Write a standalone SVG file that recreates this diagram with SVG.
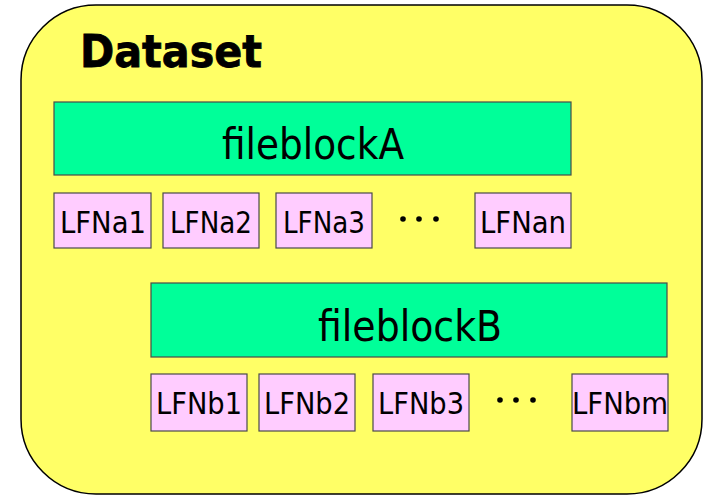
<svg xmlns="http://www.w3.org/2000/svg" width="706" height="497" viewBox="0 0 706 497">
<style>
.fb{fill:#00FF99;stroke:#4a4a4a;stroke-width:1.2}
.lfn{fill:#FFCCFF;stroke:#4a4a4a;stroke-width:1.2}
.t{font-family:"DejaVu Sans Condensed","DejaVu Sans",sans-serif;fill:#000;text-anchor:middle}
.big{font-size:43px}
.small{font-size:30px}
.dot{fill:#000}
</style>
<rect width="706" height="497" fill="#fff"/>
<g id="dataset">
<rect x="21" y="5" width="681" height="489" rx="75" ry="75" fill="#FFFF66" stroke="#000" stroke-width="1.5"/>
<text x="80" y="67" font-family="'DejaVu Sans',sans-serif" font-weight="bold" font-size="44" stroke="#000" stroke-width="0.8" textLength="182" lengthAdjust="spacingAndGlyphs">Dataset</text>
</g>
<g id="fileblockA">
<rect class="fb" x="54" y="102" width="517" height="73"/>
<text class="t big" x="313" y="159" textLength="182" lengthAdjust="spacingAndGlyphs">fileblockA</text>
</g>
<g id="LFNa1"><rect class="lfn" x="54" y="193" width="97" height="55"/><text class="t small" x="103" y="233" textLength="86" lengthAdjust="spacingAndGlyphs">LFNa1</text></g>
<g id="LFNa2"><rect class="lfn" x="163" y="193" width="96" height="55"/><text class="t small" x="211" y="233" textLength="82" lengthAdjust="spacingAndGlyphs">LFNa2</text></g>
<g id="LFNa3"><rect class="lfn" x="276" y="193" width="96" height="55"/><text class="t small" x="324" y="233" textLength="82" lengthAdjust="spacingAndGlyphs">LFNa3</text></g>
<g id="dotsA"><circle class="dot" cx="403" cy="219" r="2.8"/><circle class="dot" cx="419" cy="219" r="2.8"/><circle class="dot" cx="436" cy="219" r="2.8"/></g>
<g id="LFNan"><rect class="lfn" x="475" y="193" width="96" height="55"/><text class="t small" x="523" y="233" textLength="86" lengthAdjust="spacingAndGlyphs">LFNan</text></g>
<g id="fileblockB">
<rect class="fb" x="151" y="283" width="516" height="74"/>
<text class="t big" x="410" y="341" textLength="184" lengthAdjust="spacingAndGlyphs">fileblockB</text>
</g>
<g id="LFNb1"><rect class="lfn" x="151" y="374" width="96" height="57"/><text class="t small" x="199" y="414" textLength="86" lengthAdjust="spacingAndGlyphs">LFNb1</text></g>
<g id="LFNb2"><rect class="lfn" x="259" y="374" width="96" height="57"/><text class="t small" x="307" y="414" textLength="86" lengthAdjust="spacingAndGlyphs">LFNb2</text></g>
<g id="LFNb3"><rect class="lfn" x="373" y="374" width="96" height="57"/><text class="t small" x="421" y="414" textLength="86" lengthAdjust="spacingAndGlyphs">LFNb3</text></g>
<g id="dotsB"><circle class="dot" cx="500" cy="400" r="2.8"/><circle class="dot" cx="516" cy="400" r="2.8"/><circle class="dot" cx="533" cy="400" r="2.8"/></g>
<g id="LFNbm"><rect class="lfn" x="572" y="374" width="96" height="57"/><text class="t small" x="620" y="414" textLength="96" lengthAdjust="spacingAndGlyphs">LFNbm</text></g>
<g id="connectors"/>
</svg>
